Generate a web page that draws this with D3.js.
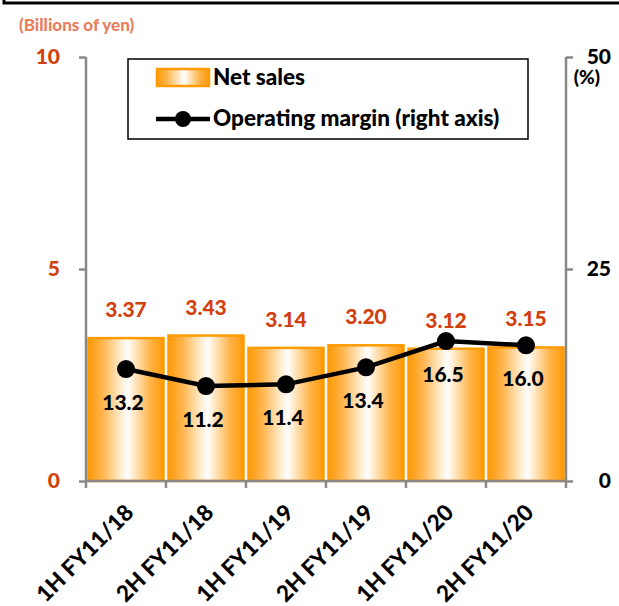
<!DOCTYPE html>
<html>
<head>
<meta charset="utf-8">
<script src="https://cdn.jsdelivr.net/npm/d3@7"></script>
<style>
  html, body { margin: 0; padding: 0; background: #fff; }
  svg { display: block; font-family: Lato, "Open Sans", sans-serif; font-weight: 900; }
</style>
</head>
<body>
<svg id="chart" width="619" height="606"></svg>
<script>
// Half-year results
const categories = ["1H FY11/18", "2H FY11/18", "1H FY11/19", "2H FY11/19", "1H FY11/20", "2H FY11/20"];
const netSales = [3.37, 3.43, 3.14, 3.20, 3.12, 3.15];      // billions of yen
const opMargin = [13.2, 11.2, 11.4, 13.4, 16.5, 16.0];      // percent
const leftTicks = [0, 5, 10];
const rightTicks = [0, 25, 50];

const svg = d3.select("#chart");
const plot = { left: 86, right: 566, top: 57, bottom: 481 };
const axisGrey = "#888888";
const salesRed = "#D2400E";
const barOrange = "#FF9A00";
const fontStack = "Lato, 'Open Sans', sans-serif";

const x = d3.scaleBand().domain(categories)
  .range([plot.left, plot.right]).paddingInner(0.0625).paddingOuter(0.03125);
const yL = d3.scaleLinear().domain([0, 10]).range([plot.bottom, plot.top]);
const yR = d3.scaleLinear().domain([0, 50]).range([plot.bottom, plot.top]);

// Frame edge along the top
svg.append("rect").attr("x", 4).attr("y", -20).attr("width", 700).attr("height", 23)
  .attr("fill", "none").attr("stroke", "#000").attr("stroke-width", 3);

// Bar gradient
const defs = svg.append("defs");
const grad = defs.append("linearGradient").attr("id", "barGrad")
  .attr("x1", "0%").attr("x2", "100%").attr("y1", "0%").attr("y2", "0%");
[[0, "#FF9A0A"], [0.18, "#FFB448"], [0.52, "#FFFFFF"], [0.82, "#FFB448"], [1, "#FF9A0A"]]
  .forEach(([o, c]) => grad.append("stop").attr("offset", o).attr("stop-color", c));

// Unit caption
svg.append("text").attr("x", 19).attr("y", 31)
  .attr("font-size", 17).attr("fill", "#E8805E").text("(Billions of yen)");

// Bars
svg.append("g").selectAll("rect").data(categories).join("rect")
  .attr("x", d => x(d))
  .attr("y", (d, i) => yL(netSales[i]))
  .attr("width", x.bandwidth())
  .attr("height", (d, i) => yL(0) - yL(netSales[i]))
  .attr("fill", "url(#barGrad)")
  .attr("stroke", barOrange).attr("stroke-width", 2.5);

// Net sales labels
svg.append("g").selectAll("text").data(categories).join("text")
  .attr("x", d => x(d) + x.bandwidth() / 2)
  .attr("y", (d, i) => yL(netSales[i]) - 21)
  .attr("text-anchor", "middle").attr("font-size", 21).attr("fill", salesRed)
  .text((d, i) => netSales[i].toFixed(2));

// Left axis
const gL = svg.append("g").attr("transform", `translate(${plot.left},0)`)
  .call(d3.axisLeft(yL).tickValues(leftTicks).tickSize(7).tickPadding(19).tickFormat(d3.format("d")));
gL.selectAll("path, line").attr("stroke", axisGrey).attr("stroke-width", 2.5);
gL.select(".domain").attr("d", `M0,${plot.top}V${plot.bottom}`);
gL.selectAll("text").attr("font-size", 21).attr("fill", salesRed)
  .attr("font-family", fontStack).attr("font-weight", 900);

// Right axis
const gR = svg.append("g").attr("transform", `translate(${plot.right},0)`)
  .call(d3.axisRight(yR).tickValues(rightTicks).tickSize(7).tickPadding(38).tickFormat(d3.format("d")));
gR.selectAll("path, line").attr("stroke", axisGrey).attr("stroke-width", 2.5);
gR.select(".domain").attr("d", `M0,${plot.top}V${plot.bottom}`);
gR.selectAll("text").attr("font-size", 21).attr("fill", "#000").attr("text-anchor", "end")
  .attr("font-family", fontStack).attr("font-weight", 900);
svg.append("text").attr("x", 600).attr("y", 84).attr("text-anchor", "end")
  .attr("font-size", 19).attr("fill", "#000").text("(%)");

// Bottom axis with ticks at category boundaries
const gB = svg.append("g");
gB.append("line").attr("x1", plot.left).attr("x2", plot.right)
  .attr("y1", plot.bottom).attr("y2", plot.bottom)
  .attr("stroke", axisGrey).attr("stroke-width", 2.5);
const step = x.step();
const bounds = categories.map(d => x(d) + x.bandwidth() / 2 - step / 2)
  .concat([x(categories[categories.length - 1]) + x.bandwidth() / 2 + step / 2]);
gB.selectAll("line.tick").data(bounds).join("line").attr("class", "tick")
  .attr("x1", d => d).attr("x2", d => d)
  .attr("y1", plot.bottom).attr("y2", plot.bottom + 7)
  .attr("stroke", axisGrey).attr("stroke-width", 2.5);
gB.selectAll("text").data(categories).join("text")
  .attr("transform", d => `translate(${x(d) + x.bandwidth() / 2 + 9},${plot.bottom + 33}) rotate(-45)`)
  .attr("text-anchor", "end").attr("font-size", 22.5).attr("fill", "#000")
  .text(d => d);

// Operating margin line
const line = d3.line()
  .x((d, i) => x(categories[i]) + x.bandwidth() / 2)
  .y(d => yR(d));
svg.append("path").datum(opMargin).attr("d", line)
  .attr("fill", "none").attr("stroke", "#000").attr("stroke-width", 4.5);
svg.append("g").selectAll("circle").data(opMargin).join("circle")
  .attr("cx", (d, i) => x(categories[i]) + x.bandwidth() / 2)
  .attr("cy", d => yR(d)).attr("r", 9).attr("fill", "#000");

// Margin labels
svg.append("g").selectAll("text").data(opMargin).join("text")
  .attr("x", (d, i) => x(categories[i]) + x.bandwidth() / 2 - 3)
  .attr("y", d => yR(d) + 41)
  .attr("text-anchor", "middle").attr("font-size", 21).attr("fill", "#000")
  .text(d => d.toFixed(1));

// Legend
const lg = svg.append("g");
lg.append("rect").attr("x", 128).attr("y", 59).attr("width", 400).attr("height", 80)
  .attr("fill", "#fff").attr("stroke", "#000").attr("stroke-width", 1.5);
lg.append("rect").attr("x", 157).attr("y", 69).attr("width", 52).attr("height", 17)
  .attr("fill", "url(#barGrad)").attr("stroke", barOrange).attr("stroke-width", 2.5);
lg.append("text").attr("x", 213).attr("y", 85).attr("font-size", 22.5).text("Net sales");
lg.append("line").attr("x1", 156).attr("x2", 210).attr("y1", 119).attr("y2", 119)
  .attr("stroke", "#000").attr("stroke-width", 4.5);
lg.append("circle").attr("cx", 183).attr("cy", 119).attr("r", 8).attr("fill", "#000");
lg.append("text").attr("x", 213).attr("y", 126).attr("font-size", 22.5).text("Operating margin (right axis)");
</script>
</body>
</html>
